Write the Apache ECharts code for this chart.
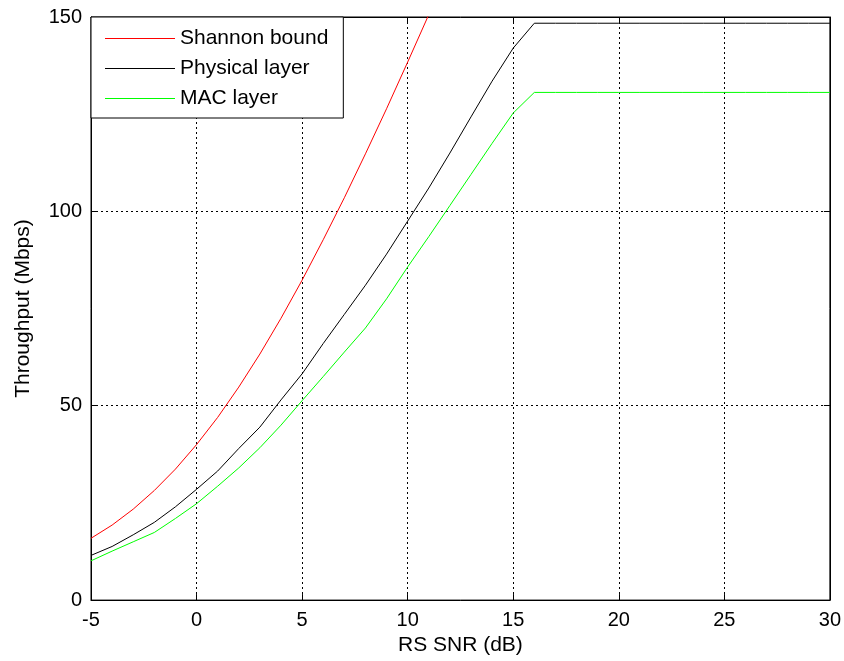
<!DOCTYPE html>
<html>
<head>
<meta charset="utf-8">
<script src="https://cdn.jsdelivr.net/npm/echarts@6/dist/echarts.min.js"></script>
<style>html,body{margin:0;padding:0;background:#fff}#c{width:844px;height:661px}</style>
</head>
<body>
<div id="c"></div>
<script>
// SNR (dB) points
var snrShannon = [-5,-4,-3,-2,-1,0,1,2,3,4,5,6,7,8,9,10,11];
var shannonBound = [15.9,19.3,23.4,28.2,33.7,40.0,47.0,54.8,63.3,72.5,82.3,92.7,103.5,114.8,126.4,138.4,150.6];

var snrLayers = [-5,-4,-3,-2,-1,0,1,2,3,4,5,6,7,8,9,10,11,12,13,14,15,16,17,18,19,20,21,22,23,24,25,26,27,28,29,30];
var physicalLayer = [11.5,13.8,16.8,20.0,24.0,28.5,33.2,39.0,44.5,51.5,58.2,66.0,73.5,81.0,89.0,97.5,106.0,115.0,124.3,133.5,142.0,148.4,148.4,148.4,148.4,148.4,148.4,148.4,148.4,148.4,148.4,148.4,148.4,148.4,148.4,148.4];
var macLayer = [10.1,12.6,15.0,17.4,21.0,24.8,29.3,34.0,39.2,45.0,51.3,57.5,63.8,70.0,77.5,85.7,93.5,101.5,109.5,117.5,125.3,130.6,130.6,130.6,130.6,130.6,130.6,130.6,130.6,130.6,130.6,130.6,130.6,130.6,130.6,130.6];

var seriesNames = ['Shannon bound','Physical layer','MAC layer'];
var xTicks = [-5,0,5,10,15,20,25,30];
var yTicks = [0,50,100,150];

function pairs(xs, ys){ return xs.map(function(x,i){ return [x, ys[i]]; }); }

var font = '"Liberation Sans", Arial, sans-serif';
var chart = echarts.init(document.getElementById('c'));
var gridDash = {type:[2,3], color:'#000', width:1};
var lineIcon = 'path://M0,0 L100,0 L100,1.4 L0,1.4 Z';
chart.setOption({
  animation:false,
  backgroundColor:'#fff',
  grid:{left:91, right:14, top:17, bottom:60, show:true, borderColor:'#000', borderWidth:1},
  legend:{
    orient:'vertical', left:91, top:17,
    backgroundColor:'#fff', borderColor:'#000', borderWidth:1,
    padding:[11,15,9,14], itemGap:9, itemWidth:70, itemHeight:22,
    icon:lineIcon,
    textStyle:{fontFamily:font, fontSize:21, color:'#000'},
    data:seriesNames
  },
  xAxis:[{
    type:'value', min:-5, max:30, interval:5,
    name:'RS SNR (dB)', nameLocation:'middle', nameGap:34,
    nameTextStyle:{fontFamily:font, fontSize:21, color:'#000'},
    axisLine:{show:true, onZero:false, lineStyle:{color:'#000'}},
    axisTick:{show:true, inside:true, length:6, lineStyle:{color:'#000'}},
    axisLabel:{fontFamily:font, fontSize:20, color:'#000', margin:10,
      formatter:function(v){ return xTicks.indexOf(v)>=0 ? String(v) : ''; }},
    splitLine:{show:true, lineStyle:gridDash}
  },{
    type:'value', position:'top', min:-5, max:30, interval:5,
    axisLine:{show:true, onZero:false, lineStyle:{color:'#000'}},
    axisTick:{show:true, inside:true, length:6, lineStyle:{color:'#000'}},
    axisLabel:{show:false}, splitLine:{show:false}
  }],
  yAxis:[{
    type:'value', min:0, max:150, interval:50,
    name:'Throughput (Mbps)', nameLocation:'middle', nameGap:57,
    nameTextStyle:{fontFamily:font, fontSize:21, color:'#000'},
    axisLine:{show:true, onZero:false, lineStyle:{color:'#000'}},
    axisTick:{show:true, inside:true, length:6, lineStyle:{color:'#000'}},
    axisLabel:{fontFamily:font, fontSize:20, color:'#000', margin:9,
      formatter:function(v){ return yTicks.indexOf(v)>=0 ? String(v) : ''; }},
    splitLine:{show:true, lineStyle:gridDash}
  },{
    type:'value', position:'right', min:0, max:150, interval:50,
    axisLine:{show:true, onZero:false, lineStyle:{color:'#000'}},
    axisTick:{show:true, inside:true, length:6, lineStyle:{color:'#000'}},
    axisLabel:{show:false}, splitLine:{show:false}
  }],
  series:[
    {name:seriesNames[0], type:'line', data:pairs(snrShannon, shannonBound), showSymbol:false, symbol:'none', clip:true,
      lineStyle:{color:'#ff0000', width:1}, itemStyle:{color:'#ff0000'}},
    {name:seriesNames[1], type:'line', data:pairs(snrLayers, physicalLayer), showSymbol:false, symbol:'none', clip:true,
      lineStyle:{color:'#000000', width:1}, itemStyle:{color:'#000000'}},
    {name:seriesNames[2], type:'line', data:pairs(snrLayers, macLayer), showSymbol:false, symbol:'none', clip:true,
      lineStyle:{color:'#00ff00', width:1}, itemStyle:{color:'#00ff00'}}
  ]
});
</script>
</body>
</html>
